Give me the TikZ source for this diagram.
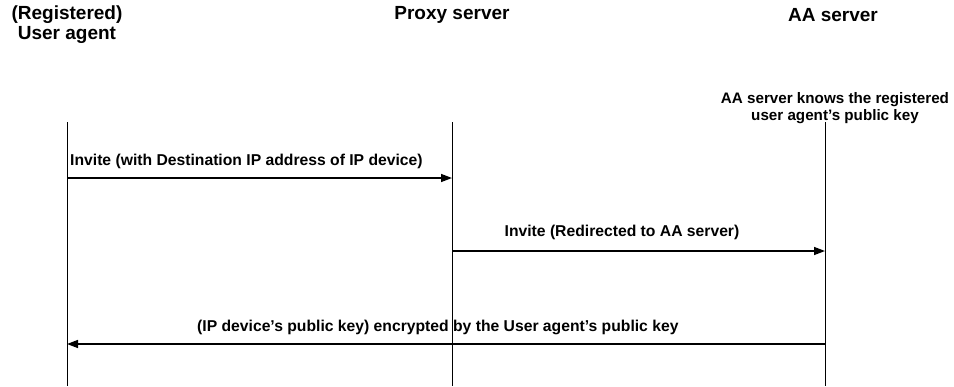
\documentclass[tikz,border=0pt]{standalone}
\usepackage{fontspec}
\setmainfont{Liberation Sans}
\usetikzlibrary{arrows.meta}
\begin{document}
\begin{tikzpicture}[x=1pt,y=-1pt,
  head/.style={font=\bfseries\fontsize{19}{20}\selectfont, align=center, inner sep=0pt},
  msg/.style={font=\bfseries\fontsize{15.7}{17}\selectfont, inner sep=0pt},
  note/.style={font=\bfseries\fontsize{15.2}{16.5}\selectfont, align=center, inner sep=0pt},
  life/.style={line width=0.9pt},
  arr/.style={line width=1.4pt, -{Triangle[length=11pt,width=8pt]}}]
\useasboundingbox (0,0) rectangle (954,386);
\node[head] (ua) at (67,25) {(Registered)\\User agent};
\node[head] (ps) at (452,15) {Proxy server};
\node[head] (aa) at (833,15) {AA server};
\node[note] (nt) at (835,108) {AA server knows the registered\\user agent's public key};
\coordinate (uaT) at (67,122); \coordinate (uaB) at (67,386);
\coordinate (psT) at (452,122); \coordinate (psB) at (452,386);
\coordinate (aaT) at (825,122); \coordinate (aaB) at (825,386);
\draw[life] (uaT) -- (uaB);
\draw[life] (psT) -- (psB);
\draw[life] (aaT) -- (aaB);
\coordinate (m1a) at (67,178); \coordinate (m1b) at (452,178);
\coordinate (m2a) at (452,251); \coordinate (m2b) at (825,251);
\coordinate (m3a) at (825,344); \coordinate (m3b) at (67,344);
\draw[arr] (m1a) -- (m1b);
\draw[arr] (m2a) -- (m2b);
\draw[arr] (m3a) -- (m3b);
\node[msg, anchor=west] (l1) at (70,161) {Invite (with Destination IP address of IP device)};
\node[msg] (l2) at (622,232) {Invite (Redirected to AA server)};
\node[msg, anchor=west] (l3) at (197,327) {(IP device's public key) encrypted by the User agent's public key};
\end{tikzpicture}
\end{document}
